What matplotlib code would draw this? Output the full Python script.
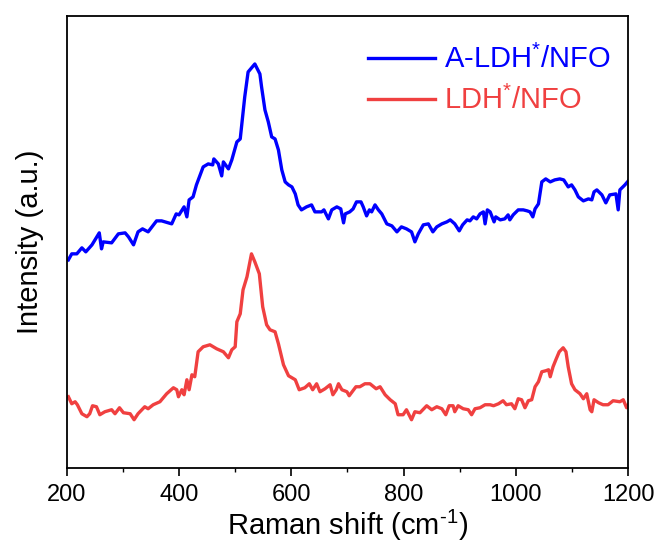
import matplotlib
matplotlib.use("Agg")
import matplotlib.pyplot as plt
from matplotlib.ticker import MultipleLocator

plt.rcParams['font.family'] = ['Liberation Sans', 'DejaVu Sans']
plt.rcParams['mathtext.fontset'] = 'custom'
plt.rcParams['mathtext.rm'] = 'Liberation Sans'
plt.rcParams['mathtext.it'] = 'Liberation Sans'
plt.rcParams['mathtext.default'] = 'regular'

# A-LDH*/NFO (blue) spectrum
blue_x = [203, 209, 218, 227, 234, 245, 258, 262, 265, 280, 292, 304, 310, 319, 327, 335, 345,
          360, 369, 387, 395, 400, 409, 414, 418, 425, 431, 443, 452, 460, 462, 470, 476, 479,
          488, 494, 503, 509, 517, 523, 535, 544, 547, 553, 559, 565, 571, 577, 583, 589, 595,
          601, 607, 612, 618, 627, 636, 642, 654, 658, 666, 672, 681, 688, 693, 696, 704, 710,
          716, 724, 728, 734, 739, 743, 749, 755, 761, 770, 779, 788, 796, 805, 814, 820, 826,
          835, 844, 852, 859, 868, 877, 883, 891, 899, 905, 913, 918, 924, 930, 936, 942, 945,
          949, 954, 961, 964, 972, 980, 986, 989, 995, 1004, 1013, 1020, 1025, 1030, 1034, 1040,
          1046, 1053, 1061, 1069, 1078, 1085, 1093, 1099, 1105, 1111, 1120, 1129, 1135, 1139,
          1144, 1153, 1160, 1167, 1178, 1182, 1185, 1194, 1200]
blue_y = [208, 214, 214, 220, 216, 223, 235, 219, 226, 225, 234, 235, 231, 223, 236, 239, 236,
          247, 247, 244, 254, 253, 261, 251, 268, 271, 283, 301, 304, 303, 309, 304, 292, 306,
          299, 308, 326, 329, 371, 396, 404, 394, 381, 358, 346, 331, 329, 318, 298, 286, 283,
          281, 274, 263, 258, 261, 263, 256, 256, 258, 249, 258, 261, 259, 245, 254, 256, 259,
          266, 266, 261, 252, 258, 256, 263, 258, 254, 244, 242, 236, 241, 239, 236, 226, 234,
          243, 244, 236, 241, 244, 246, 248, 244, 237, 243, 248, 247, 251, 249, 254, 256, 244,
          258, 256, 246, 251, 248, 249, 253, 248, 253, 258, 258, 257, 256, 251, 259, 264,
          286, 289, 286, 288, 289, 288, 281, 283, 278, 271, 267, 269, 268, 276,
          278, 273, 265, 273, 274, 258, 278, 283, 287]

# LDH*/NFO (red) spectrum
red_x = [203, 209, 215, 219, 227, 236, 241, 246, 253, 259, 268, 280, 286, 294, 301, 313, 320,
         327, 339, 345, 354, 366, 378, 390, 396, 399, 405, 409, 414, 418, 423, 428, 434, 443,
         455, 467, 479, 488, 494, 500, 503, 509, 514, 521, 529, 535, 543, 549, 556, 562, 571,
         577, 586, 595, 607, 614, 624, 632, 638, 645, 651, 660, 669, 674, 680, 684, 690, 699,
         703, 715, 722, 731, 740, 751, 758, 767, 776, 785, 790, 799, 805, 814, 820, 829, 841,
         850, 859, 868, 875, 881, 888, 891, 897, 906, 915, 921, 927, 936, 945, 954, 960, 969,
         977, 983, 992, 998, 1004, 1010, 1016, 1022, 1028, 1034, 1040, 1046, 1053, 1058, 1061,
         1066, 1071, 1077, 1084, 1089, 1093, 1099, 1105, 1114, 1120, 1126, 1132, 1135, 1139,
         1147, 1155, 1164, 1173, 1185, 1191, 1197, 1200]
red_y = [71, 64, 66, 63, 54, 51, 54, 62, 61, 53, 56, 58, 54, 60, 55, 54, 48,
         54, 61, 59, 63, 66, 74, 80, 78, 71, 78, 73, 88, 78, 93, 91, 116, 121,
         123, 119, 116, 110, 118, 121, 146, 154, 178, 191, 214, 206, 194, 161, 143, 138, 136,
         124, 103, 92, 88, 78, 80, 84, 78, 84, 76, 79, 83, 73, 78, 84, 78, 76,
         72, 81, 81, 84, 84, 79, 81, 73, 68, 64, 53, 53, 58, 48, 56, 55, 62,
         58, 61, 59, 53, 62, 62, 56, 62, 59, 58, 53, 59, 60, 63, 63, 62, 64,
         67, 63, 64, 59, 69, 68, 60, 67, 68, 81, 86, 96, 97, 98, 91,
         101, 108, 116, 120, 116, 101, 84, 78, 74, 69, 74, 58, 56, 68,
         65, 63, 63, 67, 66, 68, 60, 63]

labels = ['A-LDH$^{*}$/NFO', 'LDH$^{*}$/NFO']
colors = ['#0000FF', '#F04040']
xticks = [200, 400, 600, 800, 1000, 1200]

fig = plt.figure(figsize=(6.59, 5.43), dpi=100)
ax = fig.add_axes([66.7 / 659, 1 - 467.7 / 543, (628.3 - 66.7) / 659, (467.7 - 16) / 543])

ax.plot(blue_x, blue_y, color=colors[0], lw=2.4, label=labels[0])
ax.plot(red_x, red_y, color=colors[1], lw=2.4, label=labels[1])

ax.set_xlim(200, 1200)
ax.set_ylim(0, 452)
ax.set_xticks(xticks)
ax.xaxis.set_minor_locator(MultipleLocator(100))
ax.set_yticks([])
ax.tick_params(axis='x', which='major', direction='out', length=6, width=1.2,
               labelsize=17, pad=6)
ax.tick_params(axis='x', which='minor', direction='out', length=3, width=1.0)
for s in ax.spines.values():
    s.set_linewidth(1.3)

ax.set_xlabel('Raman shift (cm$^{\\text{-}1}$)', fontsize=21, labelpad=1)
ax.set_ylabel('Intensity (a.u.)', fontsize=21, labelpad=16)

leg = ax.legend(loc='upper right', bbox_to_anchor=(1.01, 0.987), frameon=False,
                fontsize=21, handlelength=2.3, handletextpad=0.3, labelspacing=0.4,
                labelcolor='linecolor', borderaxespad=0.4)

fig.savefig('out.png', dpi=100)
